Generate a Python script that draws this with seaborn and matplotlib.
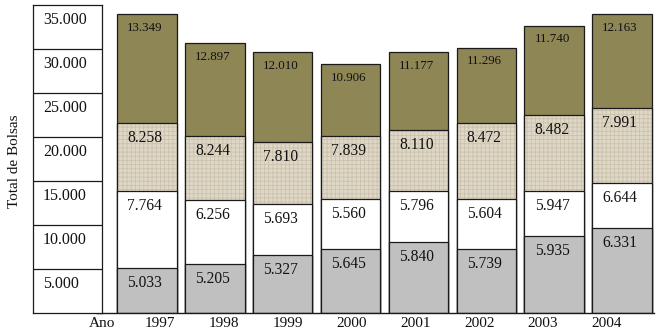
import matplotlib
matplotlib.use("Agg")
import matplotlib.pyplot as plt
import seaborn as sns
import pandas as pd
import numpy as np

# ---- data -------------------------------------------------------------
years = ["1997", "1998", "1999", "2000", "2001", "2002", "2003", "2004"]

# values printed on the segments
lbl_grey = [5033, 5205, 5327, 5645, 5840, 5739, 5935, 6331]
lbl_white = [7764, 6256, 5693, 5560, 5796, 5604, 5947, 6644]
lbl_beige = [8258, 8244, 7810, 7839, 8110, 8472, 8482, 7991]
lbl_olive = [13349, 12897, 12010, 10906, 11177, 11296, 11740, 12163]

# segment heights as drawn in the picture
h_grey = [5100, 5490, 6510, 7190, 7990, 7190, 8670, 9580]
h_white = [8700, 7280, 5810, 5730, 5800, 5730, 5160, 5130]
h_beige = [7770, 7320, 7120, 7170, 6980, 8680, 8610, 8530]
h_olive = [12370, 10550, 10180, 8190, 8850, 8540, 10200, 10730]

y_ticks = [5000, 10000, 15000, 20000, 25000, 30000, 35000]

# ---- style ------------------------------------------------------------
sns.set_theme(style="white")
plt.rcParams["font.family"] = ["Liberation Serif", "DejaVu Serif"]
plt.rcParams["hatch.linewidth"] = 0.6

C_GREY = "#C0C0C0"
C_WHITE = "#FFFFFF"
C_BEIGE = "#DFD8C7"
C_OLIVE = "#8E8655"
EDGE = "#1A1A1A"

def fmt(v):
    return f"{v:,}".replace(",", ".")

W, H = 657, 335
fig = plt.figure(figsize=(W / 100, H / 100), dpi=100)
fig.patch.set_facecolor("white")

bottom = (H - 312.5) / H
height = 307.5 / H

# ---- stacked bars -----------------------------------------------------
df = pd.DataFrame({
    "year": years,
    "grey": h_grey, "white": h_white, "beige": h_beige, "olive": h_olive,
})
df["c1"] = df["grey"]
df["c2"] = df["c1"] + df["white"]
df["c3"] = df["c2"] + df["beige"]
df["c4"] = df["c3"] + df["olive"]

ax = fig.add_axes([97 / W, bottom, 557 / W, height])
for col, color in [("c4", C_OLIVE), ("c3", C_BEIGE), ("c2", C_WHITE), ("c1", C_GREY)]:
    sns.barplot(data=df, x="year", y=col, color=color, width=0.875,
                edgecolor=EDGE, linewidth=0.9, saturation=1, ax=ax)

for p in ax.containers[1]:
    p.set_hatch("++++")
    p._hatch_color = matplotlib.colors.to_rgba("#CBC2AD")

ax.set_xlim((97 - 147) / 67.86, (654 - 147) / 67.86)
ax.set_ylim(0, 35000)
ax.set_xticks([])
ax.set_yticks([])
ax.set_xlabel("")
ax.set_ylabel("")
for s in ["left", "right", "top"]:
    ax.spines[s].set_visible(False)
ax.spines["bottom"].set_color(EDGE)
ax.spines["bottom"].set_linewidth(1.0)

segs = [
    ("c1", lbl_grey, 11.2, -10.8),
    ("c2", lbl_white, 11.2, -10.8),
    ("c3", lbl_beige, 11.2, -10.8),
    ("c4", lbl_olive, 9.4, -9.8),
]
for col, labels, fs, off in segs:
    for i, (top, lab) in enumerate(zip(df[col], labels)):
        ax.annotate(fmt(lab), xy=(i, top), xytext=(-1.5, off),
                    textcoords="offset points", ha="center", va="center",
                    fontsize=fs, color="#111111")

# ---- boxed value column ----------------------------------------------
axb = fig.add_axes([33 / W, bottom, 69 / W, height])
axb.set_xlim(0, 1)
axb.set_ylim(0, 35000)
axb.set_xticks([])
axb.set_yticks([])
for s in axb.spines.values():
    s.set_visible(True)
    s.set_color(EDGE)
    s.set_linewidth(0.9)
for v in y_ticks[:-1]:
    axb.axhline(v, color=EDGE, lw=0.9)
for v in y_ticks:
    axb.annotate(fmt(v), xy=(0, v), xytext=(7.2, -11.0),
                 textcoords="offset points", ha="left", va="center",
                 fontsize=11.5, color="#111111")

# ---- year labels -----------------------------------------------------
axy = fig.add_axes([127.75 / W, bottom, 511.2 / W, height])
axy.patch.set_alpha(0)
axy.set_xlim(-0.5, 7.5)
axy.set_ylim(0, 1)
axy.set_yticks([])
axy.set_xticks(range(len(years)), years, fontsize=11)
axy.tick_params(axis="x", length=0, pad=3.0, colors="#111111")
for s in axy.spines.values():
    s.set_visible(False)

fig.text(101.7 / W, 1 - 323.5 / H, "Ano", ha="center", va="center",
         fontsize=11, color="#111111")
fig.text(15 / W, 1 - 161 / H, "Total de Bolsas", rotation=90,
         ha="center", va="center", fontsize=11, color="#111111")

fig.savefig("out.png", dpi=100, facecolor="white")
